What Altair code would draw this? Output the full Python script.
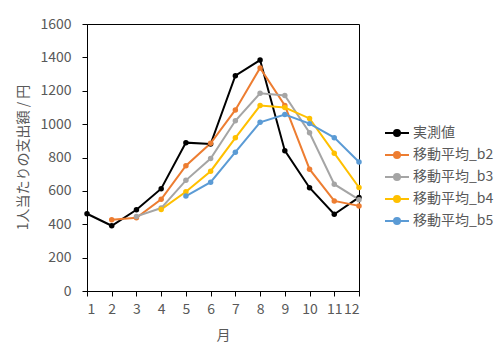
import altair as alt
import pandas as pd

months = list(range(1, 13))
series_names = ["実測値", "移動平均_b2", "移動平均_b3", "移動平均_b4", "移動平均_b5"]
actual = [463, 391, 487, 613, 889, 881, 1290, 1384, 841, 619, 460, 561]
b2 = [None, 427, 439, 550, 751, 885, 1085, 1337, 1112, 730, 540, 510]
b3 = [None, None, 447, 497, 663, 794, 1020, 1185, 1172, 948, 640, 547]
b4 = [None, None, None, 489, 595, 718, 918, 1111, 1099, 1034, 826, 620]
b5 = [None, None, None, None, 569, 652, 832, 1011, 1057, 1003, 919, 773]
colors = ["#000000", "#ED7D31", "#A5A5A5", "#FFC000", "#5B9BD5"]

rows = []
for name, vals in zip(series_names, [actual, b2, b3, b4, b5]):
    for m, v in zip(months, vals):
        if v is not None:
            rows.append({"月": m, "値": v, "系列": name})
df = pd.DataFrame(rows)

FONT = "Noto Sans CJK JP"
TXT = "#595959"

x = alt.X("月:Q", title="月",
          scale=alt.Scale(domain=[1, 12], nice=False, zero=False),
          axis=alt.Axis(values=months, format="d", grid=False, tickSize=5,
                        labelPadding=6, titlePadding=12))
y = alt.Y("値:Q", title="1人当たりの支出額 / 円",
          scale=alt.Scale(domain=[0, 1600], nice=False),
          axis=alt.Axis(values=list(range(0, 1601, 200)), format="d", grid=False, tickSize=5,
                        labelPadding=11, titleX=-57, titleY=133))
color = alt.Color("系列:N",
                  scale=alt.Scale(domain=series_names, range=colors),
                  legend=alt.Legend(title=None, orient="none", legendX=297, legendY=96,
                                    symbolType="M-1,0L1,0M-0.25,0A0.25,0.25 0 1,1 0.25,0A0.25,0.25 0 1,1 -0.25,0",
                                    symbolSize=576, symbolStrokeWidth=2, labelOffset=3,
                                    rowPadding=2, padding=0, labelFontSize=14,
                                    labelColor=TXT, labelFont=FONT))

base = alt.Chart(df)
lines = base.mark_line(strokeWidth=2, clip=False).encode(x=x, y=y, color=color)
points = base.mark_circle(size=30, opacity=1, clip=False).encode(x=x, y=y, color=color)

chart = (lines + points).properties(
    width=272, height=267,
    autosize=alt.AutoSizeParams(type="none"),
    padding={"left": 79, "top": 16, "right": 137, "bottom": 65},
).configure_view(stroke="#000000", strokeWidth=1).configure_axis(
    domainColor="#000000", tickColor="#000000", labelFont=FONT, titleFont=FONT,
    labelFontSize=14, titleFontSize=14, labelColor=TXT, titleColor=TXT,
    titleFontWeight="normal"
)

chart.save("out.html", embed_options={"renderer": "svg", "actions": False})
